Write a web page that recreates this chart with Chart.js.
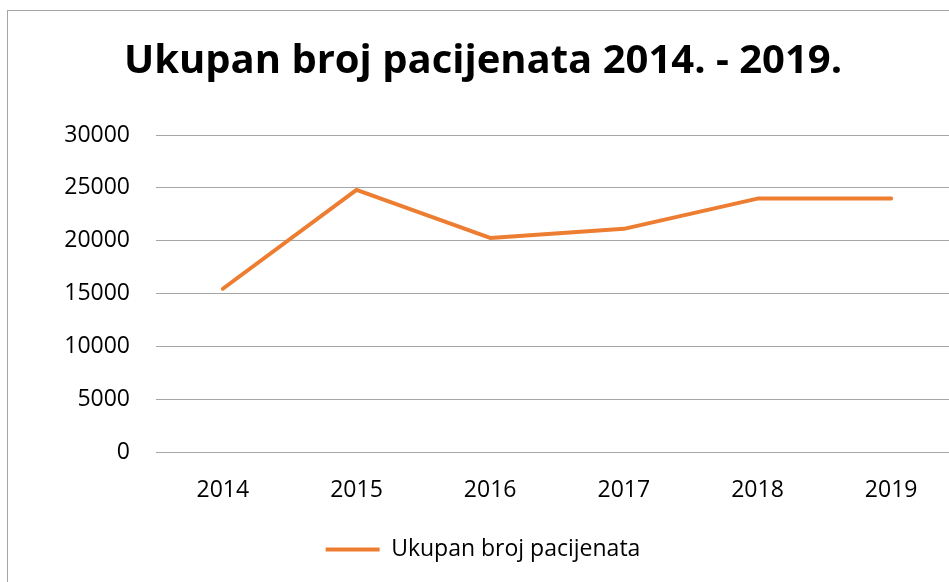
<!DOCTYPE html>
<html>
<head>
<meta charset="utf-8">
<title>Ukupan broj pacijenata</title>
<script src="https://cdn.jsdelivr.net/npm/chart.js@4"></script>
<style>
    html, body { margin: 0; padding: 0; background: #fff; overflow: hidden; }
    #box {
        position: absolute;
        left: 7px;
        top: 10px;
        width: 958px;
        height: 571px;
        border: 1px solid #a6a6a6;
    }
    canvas { display: block; }
</style>
</head>
<body>
<div id="box">
    <canvas id="chart" width="958" height="571"></canvas>
</div>
<script>
// podaci
const years = ['2014', '2015', '2016', '2017', '2018', '2019'];
const patients = [15450, 24810, 20260, 21120, 23980, 24000];
const yTicks = [0, 5000, 10000, 15000, 20000, 25000, 30000];

const chartTitle = 'Ukupan broj pacijenata 2014. - 2019.';
const seriesName = 'Ukupan broj pacijenata';

const FONT = "'Open Sans', 'Noto Sans', sans-serif";
const ORANGE = '#ed7d31';
const GRID = '#a6a6a6';

const ctx = document.getElementById('chart').getContext('2d');

new Chart(ctx, {
    type: 'line',
    data: {
        labels: years,
        datasets: [{
            label: seriesName,
            data: patients,
            borderColor: ORANGE,
            backgroundColor: ORANGE,
            borderWidth: 4,
            borderCapStyle: 'round',
            borderJoinStyle: 'round',
            pointRadius: 0,
            tension: 0,
            fill: false
        }]
    },
    options: {
        responsive: false,
        animation: false,
        layout: { padding: { left: 0, right: 8, top: 0, bottom: 11 } },
        plugins: {
            title: {
                display: true,
                text: chartTitle,
                color: '#000',
                font: { family: FONT, size: 40, weight: 'bold', lineHeight: 1.2 },
                padding: { top: 27, bottom: 49 }
            },
            legend: {
                position: 'bottom',
                labels: {
                    color: '#000',
                    font: { family: FONT, size: 23 },
                    usePointStyle: true,
                    pointStyle: 'line',
                    pointStyleWidth: 54,
                    padding: 10
                }
            },
            tooltip: { enabled: false }
        },
        scales: {
            x: {
                offset: true,
                grid: { display: false },
                border: { display: false },
                ticks: {
                    color: '#000',
                    font: { family: FONT, size: 23 },
                    padding: 17
                },
                afterFit: scale => { scale.height = 76; }
            },
            y: {
                min: 0,
                max: 30000,
                afterBuildTicks: scale => {
                    scale.ticks = yTicks.map(v => ({ value: v }));
                },
                grid: { color: GRID, lineWidth: 1, drawTicks: false },
                border: { display: false },
                ticks: {
                    color: '#000',
                    font: { family: FONT, size: 23 },
                    padding: 26,
                    callback: v => String(v)
                },
                afterFit: scale => { scale.width = 148; }
            }
        }
    }
});
</script>
</body>
</html>
